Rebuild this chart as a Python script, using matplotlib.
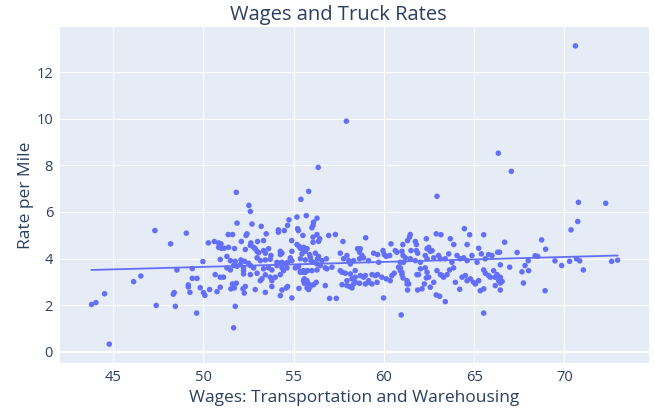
import matplotlib
matplotlib.use("Agg")
import matplotlib.pyplot as plt
import numpy as np

# Data (x = wages, y = rate per mile)
pts_left = [
    (47.31,5.20),(49.05,5.09),(48.18,4.63),(50.27,4.67),(49.97,3.87),(48.53,3.51),(49.38,3.57),
    (46.53,3.25),(46.13,3.01),(49.38,3.15),(49.64,3.15),(49.16,2.87),(49.16,2.78),(49.25,2.55),
    (49.82,2.75),(50.00,2.54),(50.08,2.42),(50.34,2.67),(48.38,2.54),(48.33,2.47),(44.52,2.49),
    (43.80,2.03),(44.04,2.11),(47.38,1.99),(48.44,1.95),(49.62,1.66),(44.78,0.33),
]
pts_mid1 = [
    (51.82,6.84),(52.52,6.28),(52.60,6.02),(55.40,6.54),(55.83,6.88),(51.86,5.52),(52.69,5.48),
    (53.20,5.38),(54.74,5.66),(54.66,5.42),(54.48,5.20),(54.15,5.23),(54.15,5.13),(55.18,5.78),
    (55.70,5.84),(55.22,5.28),(55.26,5.20),(55.51,4.99),(52.41,5.06),(52.36,4.99),(53.48,5.06),
    (51.37,5.03),(51.61,5.03),(50.60,4.73),(50.84,4.67),(50.97,4.63),(50.84,4.48),(50.99,4.44),
    (51.15,4.44),(51.39,4.48),(51.72,4.43),(52.10,4.73),(52.63,4.67),(52.60,4.56),(52.78,4.48),
    (52.87,4.42),(52.97,4.31),(53.06,4.25),(53.00,4.73),(53.33,4.77),(52.32,4.39),(53.33,4.34),
    (53.61,4.42),(53.74,4.13),(53.43,4.23),(54.26,4.31),(54.35,4.23),(54.26,4.17),(54.89,4.77),
    (55.18,4.60),(55.29,4.53),(55.37,4.44),(55.55,4.48),(55.74,4.42),(55.52,4.37),(54.90,4.31),
    (54.81,4.03),(55.37,3.99),(55.64,3.94),(55.92,4.06),(50.93,3.96),(51.30,4.09),(51.49,3.91),
    (51.76,3.88),(52.08,3.94),(52.28,3.88),(52.50,3.80),(52.97,4.03),(53.15,3.91),(53.43,3.94),
    (53.70,3.97),(54.07,3.84),(54.22,3.80),(54.35,3.84),(54.53,3.77),(54.66,3.84),(54.90,3.91),
    (51.30,3.60),(51.49,3.51),(51.67,3.70),(51.86,3.67),(52.04,3.74),(52.22,3.60),(52.60,3.70),
    (52.78,3.60),(53.33,3.56),(53.61,3.60),(53.79,3.51),(54.07,3.70),(54.35,3.60),(54.44,3.48),
    (54.63,3.60),(55.09,3.60),(55.27,3.66),(55.55,3.41),(55.77,3.48),(50.65,3.31),(50.93,3.20),
    (51.11,3.20),(52.22,3.48),(52.22,3.34),(52.60,3.31),(52.97,3.37),(53.24,3.13),(53.15,3.05),
    (53.43,3.30),(53.70,3.20),(53.79,3.05),(53.98,3.20),(54.26,3.31),(55.37,3.45),(55.59,3.13),
    (55.74,3.05),(55.83,2.91),(51.61,2.91),(51.82,2.94),(51.71,2.74),(51.52,2.70),(50.75,2.58),
    (50.93,2.77),(52.19,2.70),(52.26,2.52),(52.32,2.80),(52.87,2.67),(53.43,2.55),(53.79,2.80),
    (54.26,2.41),(54.35,2.65),(54.59,2.74),(54.66,2.80),(54.90,2.31),(51.76,1.95),(51.67,1.03),
    (55.29,2.72),(55.83,2.67),
]
pts_mid2 = [
    (56.10,5.56),(56.07,5.42),(56.01,5.32),(56.29,5.73),(56.29,5.03),(56.44,4.85),(56.07,4.92),
    (56.07,4.70),(56.38,4.74),(56.94,4.99),(57.31,5.03),(57.73,4.73),(58.99,4.89),(55.64,4.31),
    (55.46,4.20),(55.88,4.17),(56.20,4.23),(56.38,4.09),(56.32,3.99),(56.56,3.91),(56.81,3.99),
    (55.96,3.91),(56.10,3.84),(56.29,3.77),(56.47,3.70),(57.58,4.23),(57.95,4.13),(57.76,3.99),
    (58.54,4.42),(58.69,4.42),(58.65,4.27),(58.79,4.13),(58.65,3.99),(58.87,4.03),(58.05,3.91),
    (58.32,3.91),(58.14,3.77),(59.15,3.91),(59.43,4.23),(59.65,4.17),(59.71,3.84),(59.95,4.34),
    (60.02,4.17),(60.13,4.09),(60.32,4.13),(60.39,4.63),(60.63,4.34),(60.72,4.27),(61.00,4.31),
    (61.05,4.60),(61.31,4.77),(61.46,5.03),(55.55,3.48),(55.37,3.41),(55.64,3.41),(56.01,3.48),
    (56.29,3.51),(56.75,3.60),(56.84,3.56),(57.12,3.63),(57.58,3.48),(57.68,3.41),(57.86,3.37),
    (58.14,3.34),(58.41,3.48),(58.41,3.20),(58.23,3.13),(58.69,3.27),(58.87,3.20),(58.97,3.27),
    (59.15,3.05),(59.34,3.31),(59.52,3.27),(59.65,3.31),(59.89,3.20),(60.13,3.13),(60.35,3.05),
    (60.44,3.27),(60.57,3.37),(60.81,3.63),(60.91,3.48),(61.00,3.31),(61.28,3.05),(61.37,2.91),
    (55.55,3.05),(55.59,2.94),(55.74,2.74),(55.92,2.80),(56.10,2.88),(56.25,2.98),(56.75,2.84),
    (57.68,2.88),(57.95,3.05),(57.95,2.84),(58.10,2.80),(58.23,2.74),(58.32,2.91),(58.41,2.98),
    (58.65,2.94),(58.97,2.91),(59.15,2.98),(59.34,2.91),(59.62,2.98),(56.99,2.29),(57.36,2.29),
    (59.98,2.31),(60.96,1.58),
]
pts_mid3 = [
    (62.94,6.67),(64.46,5.28),(64.75,5.02),(65.53,5.02),(61.42,4.92),(62.90,5.06),(63.16,5.02),
    (61.74,4.73),(61.80,4.60),(62.35,4.85),(62.48,4.48),(62.67,4.34),(63.68,4.85),(63.87,4.60),
    (64.61,4.60),(65.25,4.44),(66.69,4.70),(61.50,4.34),(61.80,4.34),(61.87,4.23),(62.39,4.42),
    (62.57,4.31),(61.06,4.13),(61.19,4.03),(61.09,3.84),(60.91,3.84),(61.46,3.99),(61.74,3.91),
    (62.02,3.84),(62.29,4.13),(62.39,3.99),(62.76,4.03),(63.03,4.13),(63.13,3.99),(63.40,3.99),
    (63.59,4.20),(63.77,3.84),(64.05,4.13),(64.23,3.99),(64.42,4.03),(64.61,3.91),(64.88,4.13),
    (65.16,3.84),(65.40,4.20),(65.62,3.99),(65.80,4.17),(65.99,4.13),(66.30,4.27),(66.41,4.27),
    (60.91,3.60),(61.00,3.41),(61.06,3.17),(61.28,2.91),(61.31,2.65),(61.83,3.31),(61.92,3.31),
    (62.02,3.56),(62.29,3.60),(62.39,3.41),(62.48,3.20),(62.35,3.17),(62.24,2.91),(62.11,2.70),
    (61.87,2.65),(62.57,2.77),(62.76,2.98),(62.94,3.48),(63.13,3.31),(63.22,3.27),(63.31,3.20),
    (63.50,3.31),(63.64,3.51),(63.86,3.60),(63.96,2.98),(64.20,2.68),(64.33,3.20),(64.51,3.27),
    (64.61,3.05),(64.79,3.13),(64.97,2.98),(65.07,2.91),(65.25,3.05),(65.34,2.62),(65.53,2.70),
    (65.53,3.51),(65.62,3.37),(65.80,3.27),(65.90,3.20),(66.08,3.48),(66.17,3.20),(66.27,3.31),
    (66.17,2.84),(66.36,3.05),(66.45,2.65),(66.55,3.02),(66.97,3.63),(62.90,2.44),(63.09,2.38),
    (63.40,2.15),(65.53,1.66),
]
pts_right = [
    (70.78,6.41),(72.29,6.37),(70.74,5.59),(70.37,5.23),(68.74,4.80),(68.96,4.40),(67.38,4.26),
    (68.38,4.12),(68.52,4.09),(68.00,3.91),(66.45,3.73),(67.82,3.70),(67.65,3.43),(68.02,3.48),
    (69.48,3.90),(69.85,3.70),(70.29,3.88),(70.67,3.99),(70.85,3.90),(71.05,3.51),(72.62,3.88),
    (72.95,3.93),(66.45,3.20),(66.45,2.95),(67.73,2.95),(68.93,2.62),
]
pts_outliers = [(70.61,13.12),(57.92,9.89),(56.36,7.91),(66.34,8.52),(67.06,7.74)]

# Trendline
trend_x = [43.80, 72.95]
trend_y = [3.51, 4.13]

allpts = pts_left + pts_mid1 + pts_mid2 + pts_mid3 + pts_right + pts_outliers
wages = np.array([p[0] for p in allpts])
rates = np.array([p[1] for p in allpts])

TXT = "#2a3f5f"
FONT = ["Open Sans", "DejaVu Sans"]
plt.rcParams["font.family"] = FONT

fig = plt.figure(figsize=(6.55, 4.08), dpi=100)
ax = fig.add_axes([60/655, (408-363)/408, 589/655, 336/408])
ax.set_facecolor("#E5ECF6")
for s in ax.spines.values():
    s.set_visible(False)

ax.set_xlim(42.05, 74.69)
ax.set_ylim(-0.48, 13.93)
ax.set_xticks([45, 50, 55, 60, 65, 70])
ax.set_yticks([0, 2, 4, 6, 8, 10, 12])
ax.grid(True, color="white", linewidth=0.75)
ax.set_axisbelow(True)
ax.axhline(0, color="white", linewidth=1.5, zorder=0.5)
ax.tick_params(length=0, labelsize=10.5, colors=TXT, pad=5)

ax.scatter(wages, rates, s=16, color="#636EFA", edgecolors="none", zorder=3)
ax.plot(trend_x, trend_y, color="#636EFA", linewidth=1.3, zorder=2)

ax.set_xlabel("Wages: Transportation and Warehousing", fontsize=12.5, color=TXT, labelpad=3.5)
ax.set_ylabel("Rate per Mile", fontsize=12.5, color=TXT, labelpad=1.5)
fig.text(338/655, 1 - 15/408, "Wages and Truck Rates", ha="center", va="center",
         fontsize=14.5, color=TXT)

fig.savefig("out.png", dpi=100, facecolor="white")
